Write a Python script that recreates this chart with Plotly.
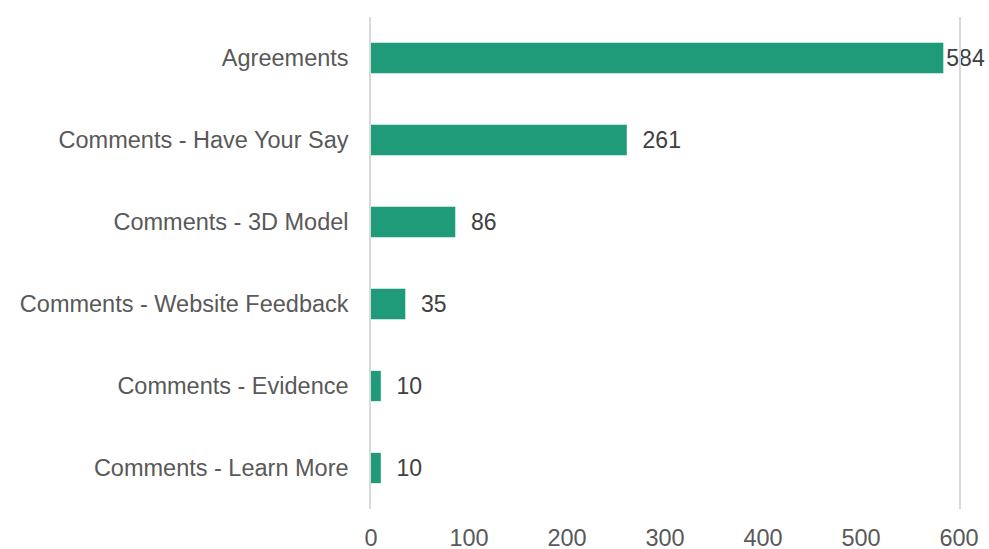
import plotly.graph_objects as go

categories = ["Agreements", "Comments - Have Your Say", "Comments - 3D Model",
              "Comments - Website Feedback", "Comments - Evidence", "Comments - Learn More"]
values = [584, 261, 86, 35, 10, 10]
x_ticks = [0, 100, 200, 300, 400, 500, 600]

x_max = 600
labels = [f"{v}" if v > 0.95 * x_max else f"  {v}" for v in values]

fig = go.Figure(go.Bar(
    x=values, y=categories, orientation="h",
    marker=dict(color="#1F9B79", line=dict(width=0)),
    width=0.37,
    text=labels, textposition="outside", cliponaxis=False,
    textfont=dict(family="Liberation Sans, Arial, sans-serif", size=23, color="#404040"),
))

fig.update_layout(
    width=989, height=549,
    margin=dict(l=371, r=30, t=17, b=40),
    paper_bgcolor="white", plot_bgcolor="white",
    showlegend=False,
    font=dict(family="Liberation Sans, Arial, sans-serif", size=23.5, color="#595959"),
    xaxis=dict(range=[0, x_max], tickvals=x_ticks, showgrid=False, zeroline=False,
               showline=False, ticks="", ticklabelstandoff=12, automargin=False,
               tickfont=dict(size=23.5, color="#595959")),
    yaxis=dict(categoryorder="array", categoryarray=categories, autorange="reversed",
               showgrid=False, zeroline=False, showline=True, mirror=True,
               linecolor="#D9D9D9", linewidth=1.5, ticks="", ticklabelstandoff=16,
               automargin=False, tickfont=dict(size=23.5, color="#595959")),
    bargap=0.63,
)

fig.write_html("out.html", config={"displayModeBar": False},
               post_script="document.body.style.margin='0';document.body.style.overflow='hidden';")
